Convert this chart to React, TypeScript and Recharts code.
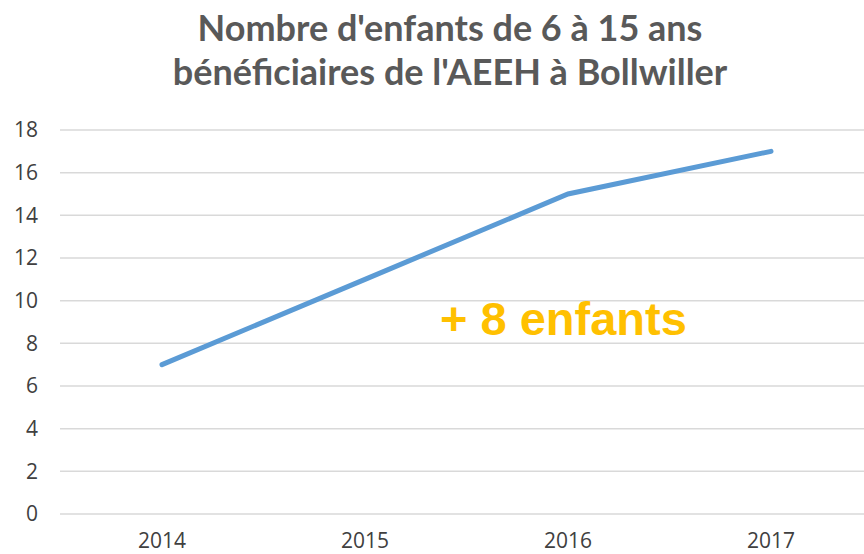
import React from 'react';
import { LineChart, Line, XAxis, YAxis, CartesianGrid } from 'recharts';

const years = ['2014', '2015', '2016', '2017'];
const enfants = [7, 11, 15, 17];
const yTicks = [0, 2, 4, 6, 8, 10, 12, 14, 16, 18];
const titleLines = ["Nombre d'enfants de 6 à 15 ans", "bénéficiaires de l'AEEH à Bollwiller"];
const annotation = '+ 8 enfants';

const chartData = years.map((year, i) => ({ year, value: enfants[i] }));

const tickStyle = { fontSize: 21, fill: '#404040', fontFamily: '"Open Sans", sans-serif' };

export default function App() {
  return (
    <div
      style={{
        position: 'absolute',
        left: 0,
        top: 0,
        width: 864,
        height: 554,
        overflow: 'hidden',
        background: '#ffffff',
      }}
    >
      <div
        style={{
          position: 'absolute',
          left: 0,
          top: 5,
          width: 900,
          textAlign: 'center',
          fontFamily: 'Lato, sans-serif',
          fontWeight: 700,
          fontSize: 36,
          lineHeight: '44px',
          color: '#595959',
        }}
      >
        {titleLines.map((t) => (
          <div key={t}>{t}</div>
        ))}
      </div>
      <LineChart
        width={880}
        height={554}
        data={chartData}
        margin={{ top: 130, right: 7, bottom: 10, left: 0 }}
      >
        <CartesianGrid vertical={false} stroke="#d9d9d9" strokeWidth={1.5} />
        <XAxis
          dataKey="year"
          axisLine={false}
          tickLine={false}
          tickMargin={13}
          tick={tickStyle}
          height={30}
          padding={{ left: 102, right: 102 }}
        />
        <YAxis
          domain={[0, 18]}
          ticks={yTicks}
          axisLine={false}
          tickLine={false}
          tickMargin={16}
          width={60}
          tick={tickStyle}
        />
        <Line
          type="linear"
          dataKey="value"
          stroke="#5b9bd5"
          strokeWidth={5}
          strokeLinecap="round"
          dot={false}
          activeDot={false}
          isAnimationActive={false}
        />
      </LineChart>
      <div
        style={{
          position: 'absolute',
          left: 440,
          top: 292,
          fontFamily: '"Liberation Sans", Arial, sans-serif',
          fontWeight: 700,
          fontSize: 47,
          lineHeight: '54px',
          color: '#ffc000',
          whiteSpace: 'nowrap',
        }}
      >
        {annotation}
      </div>
    </div>
  );
}
